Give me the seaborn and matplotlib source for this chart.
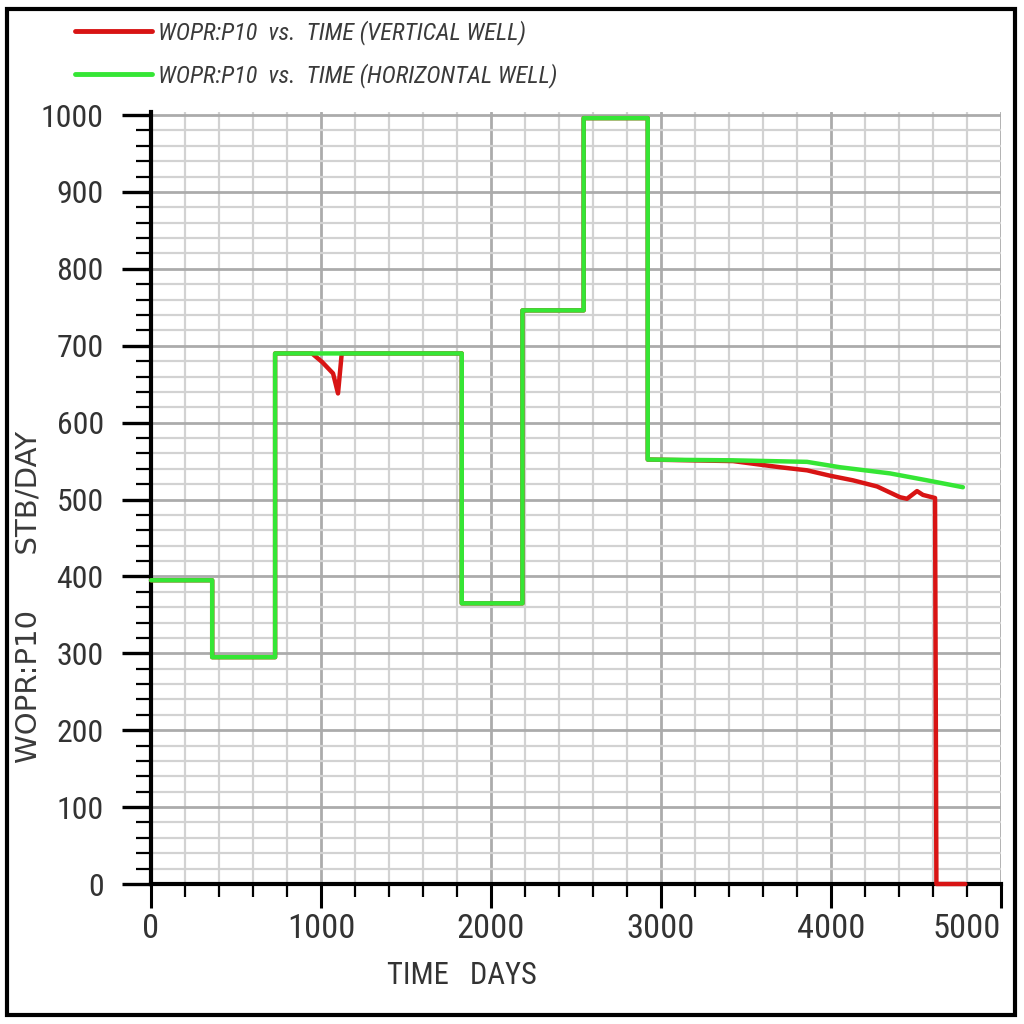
import os
import matplotlib
matplotlib.use("Agg")
import matplotlib.pyplot as plt
import seaborn as sns
from matplotlib import font_manager
from matplotlib.font_manager import FontProperties
from matplotlib.ticker import MultipleLocator
from matplotlib.patches import Rectangle

# data
vert_days = [0, 360, 360, 730, 730, 947, 1006, 1071, 1100, 1122, 1828, 1828, 2185, 2185, 2545, 2545,
             2922, 2922, 3424, 3700, 3859, 3994, 4129, 4271, 4406, 4447, 4506, 4541, 4612, 4620, 4790]
vert_rate = [395, 395, 295, 295, 690, 690, 679, 664, 638, 690, 690, 365, 365, 746, 746, 996,
             996, 552, 550, 542, 538, 531, 525, 517, 503, 501, 511, 506, 502, 0, 0]

horz_days = [0, 360, 360, 730, 730, 1828, 1828, 2185, 2185, 2545, 2545, 2922, 2922,
             3424, 3859, 4053, 4347, 4565, 4776]
horz_rate = [395, 395, 295, 295, 690, 690, 365, 365, 746, 746, 996, 996, 552,
             551, 549, 542, 534, 525, 516]

label_vert = "WOPR:P10  vs.  TIME (VERTICAL WELL)"
label_horz = "WOPR:P10  vs.  TIME (HORIZONTAL WELL)"
y_ticks = list(range(0, 1001, 100))
x_ticks = [0, 1000, 2000, 3000, 4000, 5000]

sns.set_theme(style="white")
plt.rcParams["font.family"] = ["Liberation Sans", "DejaVu Sans"]

# look for a narrow / condensed face, the original uses a tall thin font
def pick(candidates):
    files = {os.path.basename(f.fname): f.fname for f in font_manager.fontManager.ttflist}
    for c in candidates:
        if c in files:
            return files[c]
    return None

reg_file = pick(["LiberationSansNarrow-Regular.ttf", "RobotoCondensed-Regular.ttf",
                 "DejaVuSansCondensed.ttf"])
ita_file = pick(["LiberationSansNarrow-Italic.ttf", "RobotoCondensed-Italic.ttf",
                 "DejaVuSansCondensed-Oblique.ttf"])
fp_reg = FontProperties(fname=reg_file) if reg_file else FontProperties(family="Liberation Sans")
fp_ita = FontProperties(fname=ita_file) if ita_file else FontProperties(family="Liberation Sans",
                                                                          style="italic")

fig = plt.figure(figsize=(10.24, 10.24), dpi=100)
renderer = fig.canvas.get_renderer()


def fit(s, target_px, fp):
    # font size that makes text s about target_px wide
    f = fp.copy()
    f.set_size(20)
    t = fig.text(0, 0, s, fontproperties=f)
    w = t.get_window_extent(renderer).width
    t.remove()
    return 20 * target_px / w


def sized(fp, size):
    f = fp.copy()
    f.set_size(size)
    return f


ax = fig.add_axes([151 / 1024, 1 - 884 / 1024, 850 / 1024, 772 / 1024])

sns.lineplot(x=vert_days, y=vert_rate, ax=ax, color="#d81414", linewidth=3.2,
             estimator=None, sort=False, label=label_vert, zorder=3, clip_on=False)
sns.lineplot(x=horz_days, y=horz_rate, ax=ax, color="#35e635", linewidth=3.2,
             estimator=None, sort=False, label=label_horz, zorder=3, clip_on=False)

ax.set_xlim(0, 5000)
ax.set_ylim(0, 1004)

ytick_fp = sized(fp_reg, fit("1000", 63, fp_reg))
xtick_fp = sized(fp_reg, fit("1000", 68, fp_reg))
ax.set_yticks(y_ticks, labels=[str(v) for v in y_ticks], fontproperties=ytick_fp, color="#333333")
ax.set_xticks(x_ticks, labels=[str(v) for v in x_ticks], fontproperties=xtick_fp, color="#333333")
ax.get_xticklabels()[-1].set_horizontalalignment("right")
ax.xaxis.set_minor_locator(MultipleLocator(200))
ax.yaxis.set_minor_locator(MultipleLocator(20))

# grid
ax.grid(which="minor", color="#d2d2d2", linewidth=1.6)
ax.grid(which="major", color="#ababab", linewidth=2.0)
ax.set_axisbelow(True)

for s in ["top", "right"]:
    ax.spines[s].set_visible(False)
for s in ["left", "bottom"]:
    ax.spines[s].set_color("black")
    ax.spines[s].set_linewidth(3)

ax.tick_params(axis="y", which="major", direction="out", length=21, width=2.4,
               color="black", pad=13, left=True)
ax.tick_params(axis="y", which="minor", direction="out", length=11, width=1.6,
               color="black", left=True)
ax.tick_params(axis="x", which="major", direction="out", length=17, width=2.2,
               color="black", pad=4, bottom=True)
ax.tick_params(axis="x", which="minor", direction="out", length=9, width=1.6,
               color="black", bottom=True)

# axis titles
xlab = "TIME   DAYS"
fig.text(462 / 1024, 1 - 976 / 1024, xlab, ha="center", va="center", color="#333333",
         fontproperties=sized(fp_reg, fit(xlab, 150, fp_reg)))
ylab = "WOPR:P10      STB/DAY"
fig.text(29 / 1024, 1 - 597 / 1024, ylab, ha="center", va="center", rotation=90,
         color="#3a3a3a", family="DejaVu Sans", fontsize=21)

# legend on top
leg_size = fit(label_vert, 367, fp_ita)
spx = leg_size * 100 / 72
leg = ax.legend(loc="upper left",
                bbox_to_anchor=(75 / 1024, 1 - (35 - 0.6 * spx) / 1024),
                bbox_transform=fig.transFigure, frameon=False, borderpad=0,
                borderaxespad=0, handlelength=77 / spx, handletextpad=6 / spx,
                labelspacing=max(0.1, (47 - 1.2 * spx) / spx),
                prop=sized(fp_ita, leg_size))
for t in leg.get_texts():
    t.set_color("#3a3a3a")
for h in leg.legend_handles:
    h.set_linewidth(3.5)

# outer frame
fig.patches.append(Rectangle((7 / 1024, 9 / 1024), 1008 / 1024, 1006 / 1024,
                             transform=fig.transFigure, fill=False,
                             edgecolor="black", linewidth=3))

fig.savefig("out.png", dpi=100, facecolor="white")
